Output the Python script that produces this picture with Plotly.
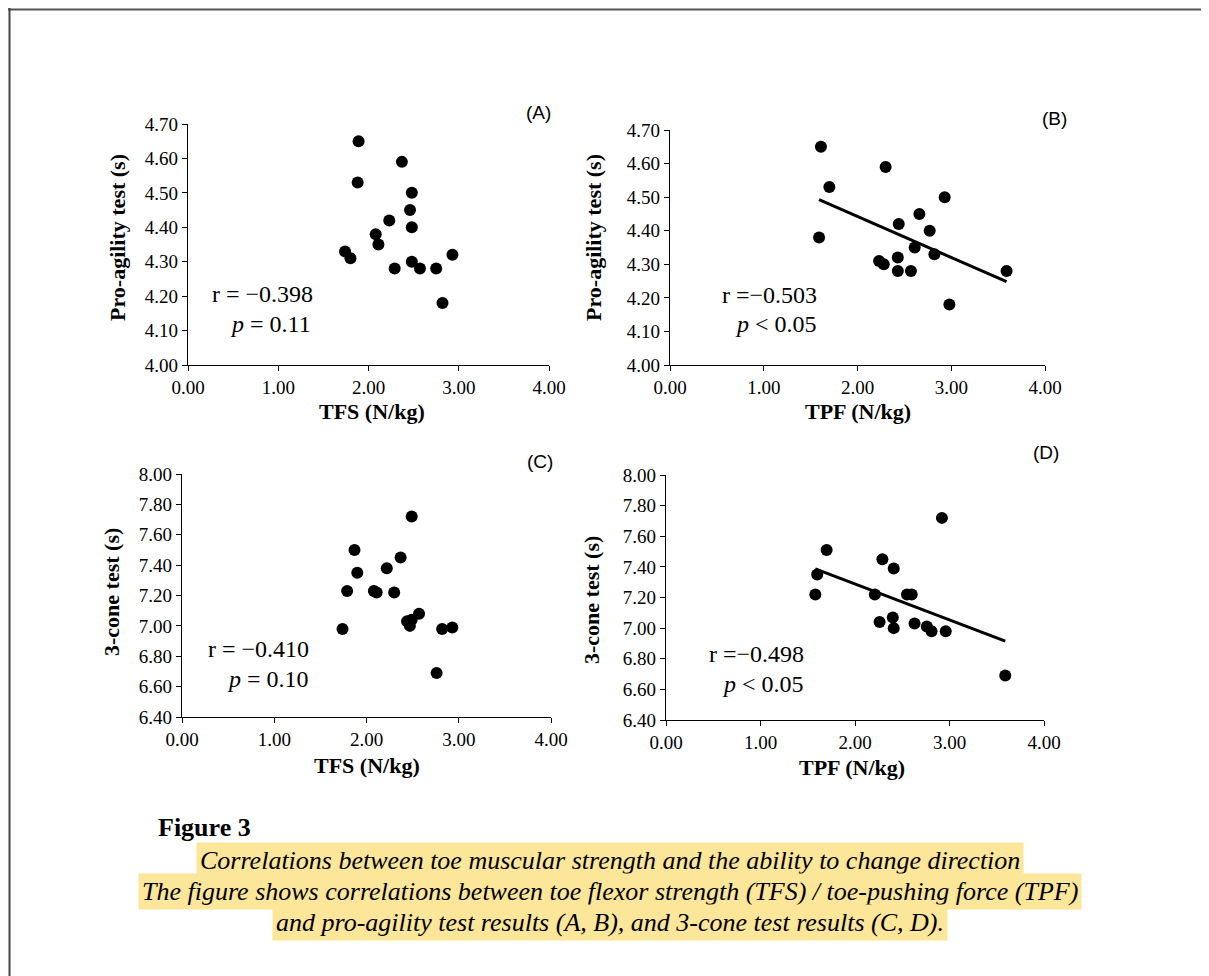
import numpy as np
import plotly.graph_objects as go

W, H = 1209, 976
OFF = 8  # page body margin in the browser

# ---------------- data ----------------
tfs_a = [1.89, 1.88, 2.37, 2.48, 2.46, 2.23, 2.48, 2.08, 2.11, 1.74, 1.80, 2.93, 2.29, 2.48, 2.57, 2.75, 2.82]
agility_a = [4.65, 4.53, 4.59, 4.50, 4.45, 4.42, 4.40, 4.38, 4.35, 4.33, 4.31, 4.32, 4.28, 4.30, 4.28, 4.28, 4.18]

tpf_b = [1.61, 1.70, 2.30, 2.93, 2.66, 2.44, 2.77, 1.59, 2.61, 2.82, 2.23, 2.28, 2.43, 2.43, 2.57, 3.59, 2.98]
agility_b = [4.65, 4.53, 4.59, 4.50, 4.45, 4.42, 4.40, 4.38, 4.35, 4.33, 4.31, 4.30, 4.32, 4.28, 4.28, 4.28, 4.18]

tfs_c = [2.49, 1.87, 2.37, 1.90, 2.22, 1.79, 2.08, 2.11, 2.30, 2.57, 2.44, 2.49, 2.47, 1.74, 2.82, 2.93, 2.76]
cone_c = [7.72, 7.50, 7.45, 7.35, 7.38, 7.23, 7.23, 7.22, 7.22, 7.08, 7.03, 7.04, 7.00, 6.98, 6.98, 6.99, 6.69]

tpf_d = [2.92, 1.70, 2.29, 2.41, 1.60, 1.58, 2.21, 2.55, 2.60, 2.40, 2.26, 2.41, 2.63, 2.76, 2.81, 2.96, 3.59]
cone_d = [7.72, 7.51, 7.45, 7.39, 7.35, 7.22, 7.22, 7.22, 7.22, 7.07, 7.04, 7.00, 7.03, 7.01, 6.98, 6.98, 6.69]

stats_r = ["r = \u22120.398", "r =\u22120.503", "r = \u22120.410", "r =\u22120.498"]
stats_p = ["<i>p</i> = 0.11", "<i>p</i> &lt; 0.05", "<i>p</i> = 0.10", "<i>p</i> &lt; 0.05"]
panel_labels = ["(A)", "(B)", "(C)", "(D)"]
x_titles = ["TFS (N/kg)", "TPF (N/kg)", "TFS (N/kg)", "TPF (N/kg)"]
y_titles = ["Pro-agility test (s)", "Pro-agility test (s)", "3-cone test (s)", "3-cone test (s)"]
caption_head = "Figure 3"
caption_lines = [
    "Correlations between toe muscular strength and the ability to change direction",
    "The figure shows correlations between toe flexor strength (TFS) / toe-pushing force (TPF)",
    "and pro-agility test results (A, B), and 3-cone test results (C, D).",
]

# ---------------- layout helpers ----------------
def fx(x):
    return (x - OFF) / W

def fy(y):
    return 1 - (y - OFF) / H

# plot-area boxes in pixels: (left, right, top, bottom)
boxes = [(188, 549, 124, 365), (670, 1045, 130, 365), (182, 551, 474, 717), (666, 1044, 475, 720)]
yranges = [[4.0, 4.7], [4.0, 4.7], [6.4, 8.0], [6.4, 8.0]]
ydticks = [0.1, 0.1, 0.2, 0.2]
series = [(tfs_a, agility_a, False), (tpf_b, agility_b, True), (tfs_c, cone_c, False), (tpf_d, cone_d, True)]

fig = go.Figure()
serif = "Liberation Serif"

for i, ((xs, ys, trend), box) in enumerate(zip(series, boxes)):
    n = "" if i == 0 else str(i + 1)
    xa, ya = "x" + n, "y" + n
    fig.add_trace(go.Scatter(x=xs, y=ys, mode="markers", xaxis=xa, yaxis=ya,
                             marker=dict(size=12, color="black"), showlegend=False))
    if trend:
        k, b = np.polyfit(xs, ys, 1)
        xl = np.array([min(xs), max(xs)])
        fig.add_trace(go.Scatter(x=xl, y=k * xl + b, mode="lines", xaxis=xa, yaxis=ya,
                                 line=dict(color="black", width=3), showlegend=False))
    l, r, t, bt = box
    common = dict(showline=True, linecolor="black", linewidth=1.3, ticks="outside",
                  ticklen=5, tickwidth=1.3, tickcolor="black", showgrid=False, zeroline=False,
                  automargin=False,
                  tickfont=dict(family=serif, size=19, color="black"), mirror=False)
    fig.update_layout(**{
        "xaxis" + n: dict(domain=[fx(l), fx(r)], range=[0, 4], dtick=1, tick0=0,
                          tickformat=".2f", anchor=ya, **common),
        "yaxis" + n: dict(domain=[fy(bt), fy(t)], range=yranges[i], dtick=ydticks[i],
                          tick0=yranges[i][0], tickformat=".2f", anchor=xa, **common),
    })

ann = []
# panel labels
for (x, y), s in zip([(538, 112), (1054, 118), (540, 461), (1046, 452)], panel_labels):
    ann.append(dict(x=fx(x), y=fy(y), text=s, font=dict(family="Liberation Sans", size=19, color="black")))
# stats
r_pos = [(315, 294), (819, 295), (311, 649), (806, 654)]
p_pos = [(313, 324), (819, 324), (311, 679), (806, 684)]
for (x, y), s in zip(r_pos, stats_r):
    ann.append(dict(x=fx(x), y=fy(y), text=s, xanchor="right", font=dict(family=serif, size=24, color="black")))
for (x, y), s in zip(p_pos, stats_p):
    ann.append(dict(x=fx(x), y=fy(y), text=s, xanchor="right", font=dict(family=serif, size=24, color="black")))
# axis titles
for (x, y), s in zip([(372, 411), (858, 412), (367, 765), (852, 767)], x_titles):
    ann.append(dict(x=fx(x), y=fy(y), text="<b>" + s + "</b>", font=dict(family=serif, size=22, color="black")))
for (x, y), s in zip([(118, 238), (594, 238), (111, 592), (591, 600)], y_titles):
    ann.append(dict(x=fx(x), y=fy(y), text="<b>" + s + "</b>", textangle=-90,
                    font=dict(family=serif, size=22, color="black")))
# caption
ann.append(dict(x=fx(156), y=fy(827), text="<b>" + caption_head + "</b>", xanchor="left",
                font=dict(family=serif, size=26, color="black")))
for y, s in zip([860, 891, 922], caption_lines):
    ann.append(dict(x=fx(610), y=fy(y), text="<i>" + s + "</i>", bgcolor="#FCE699", borderpad=3,
                    font=dict(family=serif, size=26, color="black")))

for a in ann:
    a.update(xref="paper", yref="paper", showarrow=False)
    a.setdefault("xanchor", "center")
    a.setdefault("yanchor", "middle")

shapes = [
    dict(type="line", xref="paper", yref="paper", x0=0, x1=1, y0=1 - 1.5 / H, y1=1 - 1.5 / H,
         line=dict(color="#555555", width=2)),
    dict(type="line", xref="paper", yref="paper", x0=1.5 / W, x1=1.5 / W, y0=0, y1=1,
         line=dict(color="#444444", width=2)),
]

fig.update_layout(template="none", width=W, height=H,
                  margin=dict(l=0, r=0, t=0, b=0, pad=0, autoexpand=False),
                  paper_bgcolor="white", plot_bgcolor="white",
                  font=dict(family=serif, color="black"),
                  annotations=ann, shapes=shapes)

fig.write_html("out.html")
